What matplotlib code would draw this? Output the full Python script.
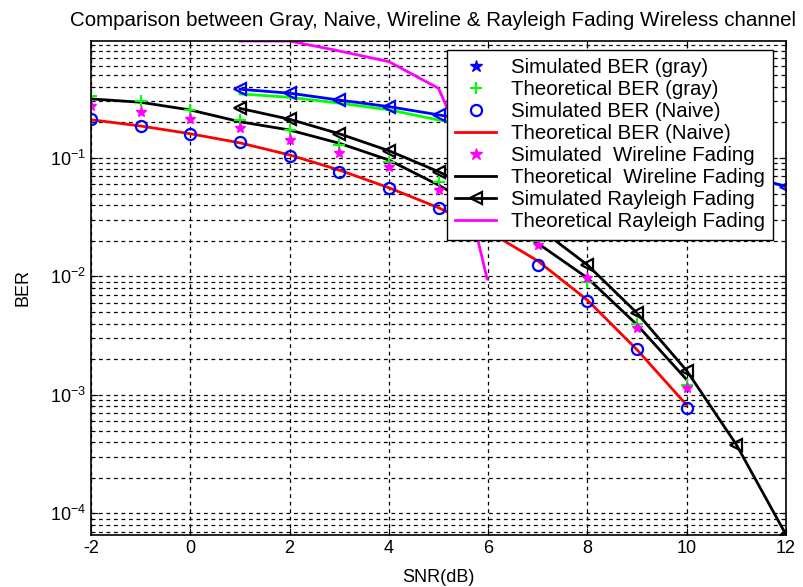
import matplotlib
matplotlib.use("Agg")
import matplotlib.pyplot as plt
from matplotlib.lines import Line2D
from matplotlib.ticker import LogLocator, NullFormatter

plt.rcParams['font.family'] = ['Liberation Sans', 'DejaVu Sans']
plt.rcParams['axes.unicode_minus'] = False

# SNR axes
snr = [-2, -1, 0, 1, 2, 3, 4, 5, 6, 7, 8, 9, 10]
snr_hi = [1, 2, 3, 4, 5, 6, 7, 8, 9, 10, 11, 12]

# BER values
sim_naive = [0.213, 0.186, 0.158, 0.136, 0.104, 0.0767, 0.0555, 0.0376, 0.023, 0.0125, 0.00625, 0.00244, 0.00078]
theo_naive = [0.21, 0.186, 0.16, 0.134, 0.106, 0.079, 0.056, 0.038, 0.024, 0.0135, 0.0063, 0.0024, 0.00082]
sim_wire = [0.275, 0.246, 0.212, 0.178, 0.142, 0.11, 0.0845, 0.0537, 0.032, 0.0185, 0.0097, 0.0037, 0.00114]
theo_gray_pts = [0.33, 0.30, 0.254, 0.209, 0.172, 0.129, 0.093, 0.063, 0.037, 0.02, 0.009, 0.0040, 0.00122]
theo_wire = [0.315, 0.295, 0.254, 0.202, 0.172, 0.133, 0.096, 0.059, 0.034, 0.019, 0.0097, 0.0039, 0.00134]

sim_rayleigh = [0.262, 0.212, 0.16, 0.115, 0.0766, 0.047, 0.026, 0.0125, 0.0049, 0.0016, 0.00038, 0.000066]
sim_gray = [0.38, 0.352, 0.308, 0.271, 0.231, 0.195, 0.163, 0.135, 0.112, 0.092, 0.075, 0.0573]
theo_gray = [0.347, 0.325, 0.29, 0.255, 0.209, 0.18, 0.15, 0.125, 0.104, 0.086, 0.071, 0.058]

snr_ray_theo = [1, 2, 3, 4, 5, 5.5, 5.8, 5.98]
theo_rayleigh = [0.97, 0.97, 0.80, 0.65, 0.387, 0.13, 0.0197, 0.0095]

labels = ['Simulated BER (gray)', 'Theoretical BER (gray)', 'Simulated BER (Naive)',
          'Theoretical BER (Naive)', 'Simulated  Wireline Fading', 'Theoretical  Wireline Fading',
          'Simulated Rayleigh Fading', 'Theoretical Rayleigh Fading']

fig = plt.figure(figsize=(8.04, 5.87), dpi=100)
ax = fig.add_axes([0.1132, 0.0886, 0.8644, 0.8416])

ax.semilogy(snr_ray_theo, theo_rayleigh, color='magenta', lw=2)
ax.semilogy(snr_hi, theo_gray, color='#00ff00', lw=2)
ax.semilogy(snr_hi, sim_gray, color='blue', lw=2, marker='<', ms=9, mfc='none', mew=1.6)
ax.semilogy(snr, theo_wire, color='black', lw=2)
ax.semilogy(snr_hi, sim_rayleigh, color='black', lw=2, marker='<', ms=9, mfc='none', mew=1.6)
ax.semilogy(snr, theo_naive, color='red', lw=2)
ax.semilogy(snr, theo_gray_pts, ls='none', color='#00ff00', marker='+', ms=9, mew=1.5)
ax.semilogy(snr, sim_wire, ls='none', color='magenta', marker='*', ms=8)
ax.semilogy(snr, sim_naive, ls='none', color='blue', marker='o', ms=8, mfc='none', mew=1.6)

ax.set_xlim(-2, 12)
ax.set_ylim(6.56e-5, 0.971)
ax.set_xticks(range(-2, 13, 2))
ax.yaxis.set_major_locator(LogLocator(base=10))
ax.yaxis.set_minor_locator(LogLocator(base=10, subs=range(2, 10)))
ax.yaxis.set_minor_formatter(NullFormatter())

ax.grid(True, which='major', color='black', ls=(0, (3, 3)), lw=0.9)
ax.grid(True, which='minor', axis='y', color='black', ls=(0, (3, 3)), lw=0.9)
ax.tick_params(which='both', direction='in', top=True, right=True, labelsize=13)
ax.tick_params(which='major', length=5)
ax.tick_params(which='minor', length=3)
for s in ax.spines.values():
    s.set_linewidth(1.2)

ax.set_title('Comparison between Gray, Naive, Wireline & Rayleigh Fading Wireless channel',
             fontsize=14.8, pad=11, x=0.492)
ax.set_xlabel('SNR(dB)', fontsize=13, labelpad=9)
ax.set_ylabel('BER', fontsize=13, labelpad=13)

handles = [
    Line2D([], [], ls='none', color='blue', marker='*', ms=9),
    Line2D([], [], ls='none', color='#00ff00', marker='+', ms=9, mew=1.5),
    Line2D([], [], ls='none', color='blue', marker='o', ms=8, mfc='none', mew=1.6),
    Line2D([], [], color='red', lw=2),
    Line2D([], [], ls='none', color='magenta', marker='*', ms=9),
    Line2D([], [], color='black', lw=2),
    Line2D([], [], color='black', lw=2, marker='<', ms=9, mfc='none', mew=1.6),
    Line2D([], [], color='magenta', lw=2),
]
leg = ax.legend(handles, labels, loc='upper right', bbox_to_anchor=(0.981, 0.982),
                borderaxespad=0, fontsize=14.7, fancybox=False, framealpha=1,
                edgecolor='black', handlelength=2.0, handletextpad=0.7,
                labelspacing=0.15, borderpad=0.4)
leg.get_frame().set_linewidth(1.0)

fig.savefig('out.png', dpi=100)
